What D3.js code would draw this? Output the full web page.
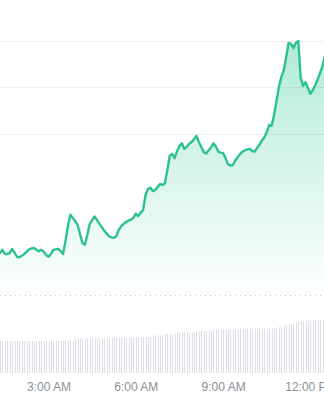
<!DOCTYPE html>
<html>
<head>
<meta charset="utf-8">
<script src="https://cdn.jsdelivr.net/npm/d3@7"></script>
<style>
  html, body { margin: 0; padding: 0; background: #ffffff; overflow: hidden; }
  svg { display: block; }
  .tick text { font-family: "Liberation Sans", Arial, Helvetica, sans-serif; }
</style>
</head>
<body>
<div id="chart"></div>
<script>
// ---- data ----
const startTime = "2024-01-01T01:20:00";   // first 5-minute sample
const endTime = "2024-01-01T12:28:00";     // right edge of visible window
const stepMinutes = 5;

const priceValues = [
  84.2, 84.9, 84.0, 84.0, 84.2, 85.1, 84.3, 83.4, 83.3, 83.6,
  84.0, 84.5, 85.0, 85.2, 85.3, 84.9, 84.6, 84.9, 84.5, 83.8,
  83.4, 84.0, 84.9, 85.0, 85.1, 84.6, 84.0, 86.8, 90.0, 92.5,
  91.8, 91.1, 90.3, 88.3, 86.4, 86.0, 88.1, 90.5, 91.3, 92.1,
  91.3, 90.5, 89.8, 89.0, 88.4, 87.8, 87.6, 87.5, 87.9, 89.2,
  90.0, 90.5, 90.9, 91.2, 91.4, 91.8, 92.7, 92.2, 92.9, 93.5,
  96.7, 98.0, 98.3, 97.6, 97.8, 98.5, 99.1, 98.9, 99.3, 102.1,
  105.2, 105.6, 104.7, 106.2, 107.3, 107.9, 106.7, 107.1, 107.8, 108.2,
  108.8, 109.5, 108.2, 107.1, 106.0, 105.7, 106.4, 107.0, 107.9, 107.2,
  106.1, 105.9, 105.8, 104.7, 103.4, 103.1, 103.2, 104.2, 104.9, 105.6,
  106.1, 106.4, 106.6, 106.7, 106.2, 106.1, 106.9, 107.6, 108.5, 109.2,
  110.3, 111.9, 111.7, 114.0, 117.0, 120.1, 122.2, 123.6, 126.5, 129.6,
  129.4, 128.5, 129.6, 130.0, 122.0, 120.3, 121.1, 119.8, 118.6, 119.4,
  120.5, 121.7, 123.1, 124.6, 126.8
];

const volumeValues = [
  32.0, 32.2, 31.8, 32.0, 32.1, 31.9, 32.0, 32.2, 32.0, 31.8,
  32.0, 32.1, 32.0, 31.9, 32.0, 32.2, 32.0, 32.1, 31.9, 32.0,
  32.0, 32.2, 32.0, 31.9, 32.1, 32.5, 32.6, 32.4, 32.5, 32.7,
  32.5, 34.4, 34.6, 34.5, 34.3, 34.6, 34.5, 34.7, 34.5, 34.4,
  34.6, 34.5, 34.6, 34.4, 34.5, 34.7, 35.5, 35.4, 35.6, 35.5,
  35.7, 35.5, 35.4, 35.6, 35.5, 35.5, 35.6, 35.4, 35.6, 36.0,
  36.2, 36.0, 36.1, 37.5, 37.4, 37.6, 37.5, 37.7, 39.0, 38.9,
  39.1, 39.0, 39.2, 40.5, 40.4, 40.6, 40.5, 40.7, 40.5, 40.4,
  40.6, 42.0, 41.9, 42.1, 42.0, 42.2, 41.9, 42.0, 43.5, 43.4,
  43.6, 43.5, 43.7, 43.5, 43.4, 43.6, 43.5, 43.5, 43.6, 44.5,
  44.4, 44.6, 44.5, 44.7, 44.5, 44.4, 44.6, 44.5, 44.5, 44.6,
  44.4, 44.5, 44.7, 44.5, 44.6, 46.0, 46.1, 47.5, 47.6, 49.0,
  49.1, 50.0, 50.1, 51.5, 51.4, 51.6, 52.5, 52.4, 52.6, 52.5,
  52.7, 52.5, 52.6, 52.5, 52.7
];

const gridValues = [130, 120, 110];
const tickTimes = ["2024-01-01T03:00:00", "2024-01-01T06:00:00", "2024-01-01T09:00:00", "2024-01-01T12:00:00"];
const tickLabels = ["3:00 AM", "6:00 AM", "9:00 AM", "12:00 PM"];

// ---- layout ----
const W = 324, H = 400;
const t0 = new Date(startTime);
const points = priceValues.map((v, i) => ({ t: new Date(t0.getTime() + i * stepMinutes * 60000), v }));
const vols = volumeValues.map((v, i) => ({ t: new Date(t0.getTime() + i * stepMinutes * 60000), v }));

const svg = d3.select("#chart").append("svg").attr("width", W).attr("height", H);

const x = d3.scaleTime().domain([t0, new Date(endTime)]).range([0, W]);
const y = d3.scaleLinear().domain([80, 130]).range([272.5, 41]);
const yVol = d3.scaleLinear().domain([0, 60]).range([373, 313]);

const defs = svg.append("defs");
const grad = defs.append("linearGradient").attr("id", "areaGrad")
  .attr("gradientUnits", "userSpaceOnUse").attr("x1", 0).attr("x2", 0).attr("y1", 40).attr("y2", 300);
grad.append("stop").attr("offset", 0).attr("stop-color", "#1cc588").attr("stop-opacity", 0.34);
grad.append("stop").attr("offset", 1).attr("stop-color", "#1cc588").attr("stop-opacity", 0.0);

// grid
svg.append("g").selectAll("line").data(gridValues).join("line")
  .attr("x1", 0).attr("x2", W)
  .attr("y1", d => Math.round(y(d)) + 0.5).attr("y2", d => Math.round(y(d)) + 0.5)
  .attr("stroke", "#efeff2").attr("stroke-width", 1);

// dotted baseline
svg.append("line").attr("x1", 0).attr("x2", W).attr("y1", 295.5).attr("y2", 295.5)
  .attr("stroke", "#c4c4c8").attr("stroke-width", 1).attr("stroke-dasharray", "1,4");

// area
const area = d3.area().x(d => x(d.t)).y0(295).y1(d => y(d.v));
svg.append("path").datum(points).attr("d", area).attr("fill", "url(#areaGrad)");

// line
const line = d3.line().x(d => x(d.t)).y(d => y(d.v));
svg.append("path").datum(points).attr("d", line)
  .attr("fill", "none").attr("stroke", "#2bc38b").attr("stroke-width", 2.4)
  .attr("stroke-linejoin", "round").attr("stroke-linecap", "round");

// volume bars
svg.append("g").selectAll("rect").data(vols).join("rect")
  .attr("x", d => Math.round(x(d.t))).attr("width", 1)
  .attr("y", d => yVol(d.v)).attr("height", d => yVol(0) - yVol(d.v))
  .attr("fill", "#dedee6");

// x axis
const xAxis = d3.axisBottom(x)
  .tickValues(tickTimes.map(s => new Date(s)))
  .tickFormat((d, i) => tickLabels[i])
  .tickSize(0).tickPadding(0);
const gx = svg.append("g").attr("transform", "translate(0,380)").call(xAxis);
gx.select(".domain").remove();
gx.selectAll("text").attr("fill", "#8c8f96").attr("font-size", 12).attr("dy", "0.9em");
</script>
</body>
</html>
